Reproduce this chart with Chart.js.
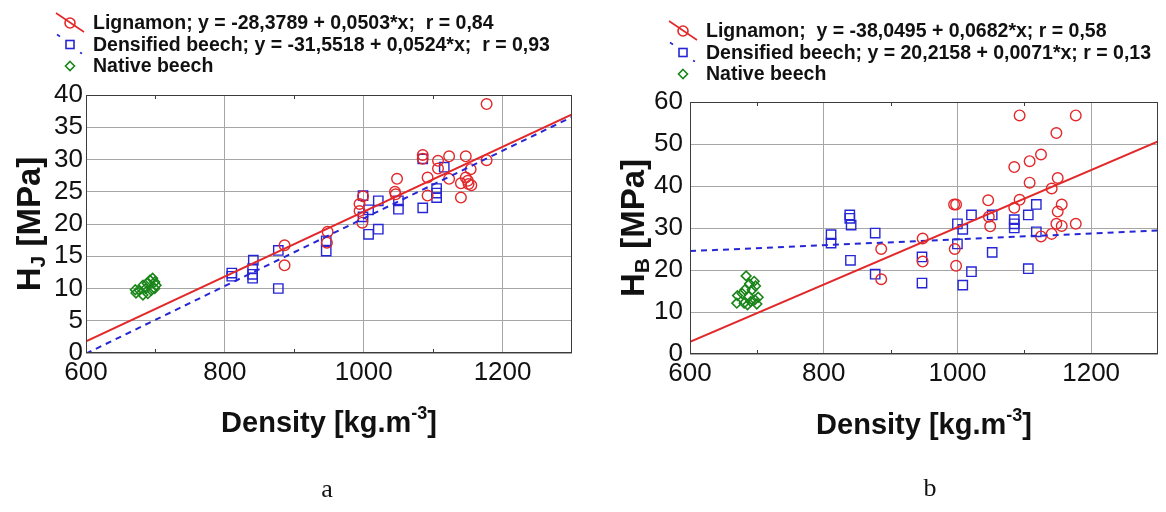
<!DOCTYPE html>
<html>
<head>
<meta charset="utf-8">
<script src="https://cdn.jsdelivr.net/npm/chart.js@4/dist/chart.umd.min.js"></script>
<style>
  body { margin: 0; background: #fff; }
  #wrap { position: relative; width: 1166px; height: 512px; overflow: hidden; }
  .panel { position: absolute; top: 0; width: 583px; height: 512px; }
</style>
</head>
<body>
<div id="wrap">
  <div class="panel" style="left:0"><canvas id="chartA" width="583" height="512"></canvas></div>
  <div class="panel" style="left:583px"><canvas id="chartB" width="583" height="512"></canvas></div>
</div>
<script>
// axis ticks
const densityTicks = [600, 800, 1000, 1200];
const minorDensity = [700, 900, 1100];
const hjTicks = [0, 5, 10, 15, 20, 25, 30, 35, 40];
const hbTicks = [0, 10, 20, 30, 40, 50, 60];

// panel a - HJ
const lignamonDensA = [886, 886, 948, 947, 994, 994, 998, 999, 1048, 1045, 1046, 1085, 1085, 1092, 1092, 1107, 1107, 1123, 1123, 1147, 1154, 1140, 1140, 1147, 1150, 1151, 1155, 1177, 1177];
const lignamonHjA   = [16.7, 13.6, 18.8, 17.1, 23.1, 22.0, 20.2, 24.3, 27.0, 25.0, 24.6, 30.7, 30.1, 27.2, 24.4, 29.8, 28.6, 30.5, 27.0, 30.5, 28.5, 26.3, 24.1, 27.2, 26.7, 26.2, 26.0, 29.9, 38.6];
const densifiedDensA = [810, 810, 841, 840, 840, 840, 877, 877, 946, 946, 999, 999, 1007, 1021, 1021, 1007, 1050, 1050, 1085, 1085, 1105, 1105, 1105, 1116];
const densifiedHjA   = [12.4, 11.9, 14.4, 13.1, 12.2, 11.6, 15.9, 10.0, 17.4, 15.8, 24.4, 21.1, 18.4, 19.2, 23.6, 22.2, 23.6, 22.3, 30.1, 22.5, 25.5, 24.8, 24.1, 28.8];
const nativeDensA = [672, 677, 682, 686, 688, 692, 696, 699, 694, 699, 689, 682, 701, 671];
const nativeHjA   = [9.3, 9.7, 9.0, 10.0, 10.8, 11.3, 11.6, 11.0, 9.7, 10.0, 9.2, 10.5, 10.5, 9.8];
const fitDens = [600, 1300];
const lignamonFitA = [1.8, 37.0];
const densifiedFitA = [-0.1, 36.6];
const legendA = ['Lignamon; y = -28,3789 + 0,0503*x;  r = 0,84', 'Densified beech; y = -31,5518 + 0,0524*x;  r = 0,93', 'Native beech'];

// panel b - HB
const lignamonDensB = [886, 886, 948, 948, 996, 998, 995, 998, 1046, 1047, 1049, 1085, 1085, 1093, 1093, 1108, 1108, 1125, 1125, 1141, 1141, 1148, 1148, 1150, 1150, 1156, 1156, 1177, 1177];
const lignamonHbB   = [25.0, 17.8, 27.5, 22.0, 25.0, 21.0, 35.6, 35.6, 36.6, 32.7, 30.4, 44.5, 34.8, 36.7, 56.8, 45.9, 40.8, 47.5, 28.0, 39.4, 28.6, 52.6, 31.0, 41.9, 33.9, 35.6, 30.5, 56.8, 31.0];
const densifiedDensB = [811, 811, 839, 839, 841, 840, 877, 877, 947, 947, 1000, 1008, 1000, 1008, 1021, 1021, 1052, 1052, 1085, 1085, 1085, 1106, 1106, 1118, 1118];
const densifiedHbB   = [28.4, 26.4, 33.1, 32.3, 30.7, 22.3, 28.8, 19.0, 23.1, 16.9, 31.0, 29.7, 26.2, 16.4, 33.1, 19.6, 33.1, 24.2, 32.0, 31.0, 30.0, 33.1, 20.3, 35.6, 29.1];
const nativeDensB = [684, 696, 698, 689, 682, 693, 671, 678, 688, 697, 670, 681, 691, 700, 686, 702];
const nativeHbB   = [18.6, 17.3, 16.2, 16.7, 15.3, 15.3, 13.9, 14.4, 13.7, 12.9, 12.1, 12.1, 12.5, 11.9, 11.7, 13.5];
const lignamonFitB = [2.9, 50.6];
const densifiedFitB = [24.5, 29.4];
const legendB = ['Lignamon;  y = -38,0495 + 0,0682*x; r = 0,58', 'Densified beech; y = 20,2158 + 0,0071*x; r = 0,13', 'Native beech'];

const RED = '#e3282a';
const BLUE = '#2626d6';
const GREEN = '#1a861a';
const FONT = '"Liberation Sans", Arial, sans-serif';

function pts(xs, ys) {
  return xs.map((x, i) => ({ x: x, y: ys[i] }));
}

function seg(ctx, x1, y1, x2, y2) {
  ctx.beginPath();
  ctx.moveTo(x1, y1);
  ctx.lineTo(x2, y2);
  ctx.stroke();
}

function legendSymbol(ctx, i, x, y) {
  ctx.lineWidth = 1.6;
  ctx.setLineDash([]);
  if (i === 0) {
    ctx.strokeStyle = RED;
    seg(ctx, x - 14, y - 10, x + 14, y + 9);
    ctx.beginPath();
    ctx.arc(x, y, 5, 0, Math.PI * 2);
    ctx.stroke();
  } else if (i === 1) {
    ctx.strokeStyle = BLUE;
    seg(ctx, x - 13, y - 10, x - 10, y - 8);
    seg(ctx, x + 10, y + 8, x + 12, y + 9);
    ctx.strokeRect(x - 4, y - 4, 8, 8);
  } else {
    ctx.strokeStyle = GREEN;
    ctx.beginPath();
    ctx.moveTo(x, y - 4.5);
    ctx.lineTo(x + 4.5, y);
    ctx.lineTo(x, y + 4.5);
    ctx.lineTo(x - 4.5, y);
    ctx.closePath();
    ctx.stroke();
  }
}

const decor = {
  id: 'decor',
  afterDraw(chart, args, o) {
    const ctx = chart.ctx;
    const a = chart.chartArea;
    const xs = chart.scales.x;
    ctx.save();

    // frame + minor ticks
    ctx.strokeStyle = '#3c3c3c';
    ctx.lineWidth = 1;
    ctx.strokeRect(a.left + 0.5, a.top + 0.5, a.right - a.left - 1, a.bottom - a.top - 1);
    minorDensity.forEach(v => {
      const px = Math.round(xs.getPixelForValue(v)) + 0.5;
      seg(ctx, px, a.top, px, a.top + 4);
      seg(ctx, px, a.bottom - 4, px, a.bottom);
    });

    // legend
    ctx.textAlign = 'left';
    ctx.textBaseline = 'middle';
    o.legend.forEach((txt, i) => {
      const y = o.legendY + i * 21.5;
      legendSymbol(ctx, i, o.symbolX, y);
      ctx.font = 'bold 19.5px ' + FONT;
      ctx.fillStyle = '#111';
      ctx.fillText(txt, o.textX, y + 1);
    });

    // x title with superscript
    const big = 'bold 29px ' + FONT, small = 'bold 18px ' + FONT;
    ctx.font = big;
    const w1 = ctx.measureText('Density [kg.m').width;
    const w3 = ctx.measureText(']').width;
    ctx.font = small;
    const w2 = ctx.measureText('-3').width;
    let x = (a.left + a.right) / 2 - (w1 + w2 + w3) / 2;
    const ty = o.xTitleY;
    ctx.font = big; ctx.fillText('Density [kg.m', x, ty); x += w1;
    ctx.font = small; ctx.fillText('-3', x, ty - 10); x += w2;
    ctx.font = big; ctx.fillText(']', x, ty);

    // y title with subscript
    ctx.save();
    ctx.translate(o.yTitleX, (a.top + a.bottom) / 2);
    ctx.rotate(-Math.PI / 2);
    const yb = 'bold 33px ' + FONT, ys = 'bold 21px ' + FONT;
    ctx.font = yb;
    const h1 = ctx.measureText('H').width;
    const h3 = ctx.measureText(' [MPa]').width;
    ctx.font = ys;
    const h2 = ctx.measureText(o.sub).width;
    let yx = -(h1 + h2 + h3) / 2;
    ctx.font = yb; ctx.fillText('H', yx, 0); yx += h1;
    ctx.font = ys; ctx.fillText(o.sub, yx, 8); yx += h2;
    ctx.font = yb; ctx.fillText(' [MPa]', yx, 0);
    ctx.restore();

    // panel letter
    ctx.font = '26px "Liberation Serif", "Times New Roman", serif';
    ctx.textAlign = 'center';
    ctx.fillText(o.letter, o.letterX, o.letterY);
    ctx.restore();
  }
};

function makeChart(id, c) {
  const tickFont = { family: FONT, size: 26 };
  return new Chart(document.getElementById(id), {
    type: 'scatter',
    data: {
      datasets: [
        { data: pts(fitDens, c.ligFit), showLine: true, borderColor: RED, borderWidth: 2, pointRadius: 0 },
        { data: pts(fitDens, c.denFit), showLine: true, borderColor: BLUE, borderWidth: 2, borderDash: [6, 5], pointRadius: 0 },
        { data: c.lig, pointStyle: 'circle', pointRadius: 5.3, borderColor: RED, backgroundColor: 'rgba(0,0,0,0)', borderWidth: 1.4 },
        { data: c.den, pointStyle: 'rect', pointRadius: 6.6, borderColor: BLUE, backgroundColor: 'rgba(0,0,0,0)', borderWidth: 1.4 },
        { data: c.nat, pointStyle: 'rectRot', pointRadius: 4.8, borderColor: GREEN, backgroundColor: 'rgba(0,0,0,0)', borderWidth: 1.6 }
      ]
    },
    options: {
      responsive: false,
      animation: false,
      layout: { padding: { left: 0, top: c.top, right: c.right, bottom: c.bottom } },
      plugins: {
        legend: { display: false },
        tooltip: { enabled: false },
        decor: c.decor
      },
      scales: {
        x: {
          type: 'linear', min: 600, max: 1300,
          afterFit: s => { s.height = 40; },
          ticks: {
            stepSize: 100, autoSkip: false, maxRotation: 0, padding: 4,
            color: '#111', font: tickFont,
            callback: v => densityTicks.includes(v) ? String(v) : ''
          },
          grid: { drawTicks: false, color: g => densityTicks.includes(g.tick && g.tick.value) ? '#a6a6a6' : 'rgba(0,0,0,0)' },
          border: { display: false }
        },
        y: {
          min: 0, max: c.yTicks[c.yTicks.length - 1],
          afterFit: s => { s.width = c.yWidth; },
          ticks: {
            stepSize: c.yTicks[1] - c.yTicks[0], padding: c.yPad, autoSkip: false,
            color: '#111', font: tickFont,
            callback: v => c.yTicks.includes(v) ? String(v) : ''
          },
          grid: { drawTicks: false, color: '#a6a6a6' },
          border: { display: false }
        }
      }
    },
    plugins: [decor]
  });
}

makeChart('chartA', {
  lig: pts(lignamonDensA, lignamonHjA),
  den: pts(densifiedDensA, densifiedHjA),
  nat: pts(nativeDensA, nativeHjA),
  ligFit: lignamonFitA, denFit: densifiedFitA,
  yTicks: hjTicks, yWidth: 86, yPad: 3,
  top: 95, right: 11, bottom: 119,
  decor: { legend: legendA, legendY: 23, symbolX: 70, textX: 93, xTitleY: 424, yTitleX: 31, sub: 'J', letter: 'a', letterX: 327, letterY: 490 }
});

makeChart('chartB', {
  lig: pts(lignamonDensB, lignamonHbB),
  den: pts(densifiedDensB, densifiedHbB),
  nat: pts(nativeDensB, nativeHbB),
  ligFit: lignamonFitB, denFit: densifiedFitB,
  yTicks: hbTicks, yWidth: 107, yPad: 7,
  top: 102, right: 1, bottom: 118,
  decor: { legend: legendB, legendY: 31, symbolX: 100, textX: 123, xTitleY: 426, yTitleX: 52, sub: 'B', letter: 'b', letterX: 347, letterY: 489 }
});
</script>
</body>
</html>
